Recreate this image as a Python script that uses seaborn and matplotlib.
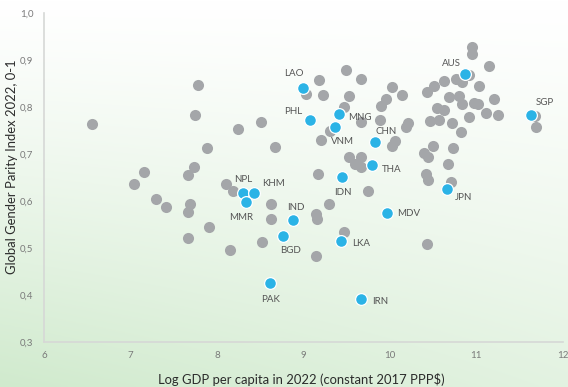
import numpy as np
import matplotlib
matplotlib.use("Agg")
import matplotlib.pyplot as plt
from matplotlib.ticker import FuncFormatter
import pandas as pd
import seaborn as sns

# Other economies (grey)
other_gdp = [6.56, 7.78, 7.75, 7.88, 7.16, 7.04, 7.30, 7.41, 7.73, 7.67,
             7.69, 7.67, 7.91, 7.67, 8.11, 8.19, 8.63, 8.63, 8.52, 8.15,
             9.15, 9.16, 9.29, 9.15, 9.47, 9.75, 9.17, 8.51, 8.24, 8.67,
             9.20, 9.31, 9.03, 9.18, 9.23, 9.49, 9.67, 9.53, 9.47, 9.67,
             9.89, 10.02, 9.96, 9.90, 10.14, 9.53, 9.67, 9.60, 9.67, 10.06,
             10.02, 10.21, 10.19, 10.43, 10.51, 10.62, 10.76, 10.83, 10.92, 10.95,
             10.95, 11.15, 11.03, 10.68, 10.80, 10.83, 10.97, 11.02, 11.20, 10.54,
             10.62, 10.46, 10.57, 10.72, 10.92, 11.11, 11.25, 11.68, 11.69, 10.82,
             10.50, 10.73, 10.39, 10.44, 10.67, 10.42, 10.44, 10.71, 10.43]
other_gpi = [0.765, 0.847, 0.783, 0.714, 0.662, 0.637, 0.605, 0.587, 0.672, 0.656,
             0.595, 0.578, 0.545, 0.523, 0.637, 0.622, 0.594, 0.562, 0.513, 0.496,
             0.574, 0.562, 0.594, 0.484, 0.534, 0.622, 0.659, 0.769, 0.753, 0.715,
             0.731, 0.750, 0.829, 0.857, 0.825, 0.879, 0.861, 0.823, 0.800, 0.769,
             0.773, 0.844, 0.818, 0.802, 0.825, 0.695, 0.695, 0.680, 0.673, 0.728,
             0.717, 0.767, 0.758, 0.832, 0.845, 0.856, 0.859, 0.854, 0.868, 0.928,
             0.914, 0.887, 0.845, 0.822, 0.824, 0.806, 0.809, 0.807, 0.817, 0.799,
             0.794, 0.771, 0.772, 0.766, 0.780, 0.787, 0.783, 0.781, 0.757, 0.747,
             0.718, 0.714, 0.703, 0.695, 0.680, 0.659, 0.645, 0.641, 0.509]

# Highlighted Asia-Pacific economies (blue)
codes = ["LAO", "PHL", "MNG", "VNM", "CHN", "THA", "IDN", "NPL", "KHM", "MMR",
         "IND", "BGD", "LKA", "PAK", "IRN", "MDV", "JPN", "AUS", "SGP"]
hl_gdp = [8.99, 9.07, 9.41, 9.36, 9.83, 9.79, 9.45, 8.30, 8.43, 8.34,
          8.88, 8.76, 9.43, 8.61, 9.66, 9.97, 10.66, 10.87, 11.63]
hl_gpi = [0.841, 0.773, 0.785, 0.758, 0.726, 0.677, 0.651, 0.617, 0.617, 0.598,
          0.560, 0.526, 0.516, 0.426, 0.392, 0.575, 0.626, 0.870, 0.783]

# Label placement (pixel offsets from each marker)
label_dx = [-9, -16, 21, 8, 11, 20, 1, 0, 19, -5, 3, 8, 20, 1, 20, 21, 17, -14, 14]
label_dy = [14, 8, -3, -14, 11, -4, -15, 14, 10, -15, 13, -14, -3, -16, -2, 0, -8, 11, 13]

others = pd.DataFrame({"gdp": other_gdp, "gpi": other_gpi})
highlight = pd.DataFrame({"gdp": hl_gdp, "gpi": hl_gpi, "code": codes})

sns.set_theme(style="white")
plt.rcParams["font.family"] = ["Lato", "DejaVu Sans"]

fig = plt.figure(figsize=(5.68, 3.87), dpi=100)

# Soft green wash behind everything, fading to white at the top
bg = fig.add_axes([0, 0, 1, 1], zorder=-10)
h, w = 200, 300
yy, xx = np.mgrid[0:h, 0:w]
t = (yy / (h - 1)) ** 1.2
s = xx / (w - 1)
g = np.clip(t * (1.0 - 0.4 * s), 0, 1)[..., None]
top = np.array([1.0, 1.0, 1.0])
green = np.array([208, 234, 205]) / 255.0
img = top * (1 - g) + green * g
bg.imshow(img, aspect="auto", extent=[0, 1, 0, 1], origin="upper")
bg.axis("off")

ax = fig.add_axes([0.0775, 0.115, 0.9135, 0.851])
ax.set_facecolor("none")

sns.scatterplot(data=others, x="gdp", y="gpi", ax=ax, color="#a4a6a9",
                s=64, linewidth=0, zorder=2, legend=False)
sns.scatterplot(data=highlight, x="gdp", y="gpi", ax=ax, color="#2bb3e6",
                s=72, edgecolor="white", linewidth=0.9, zorder=3, legend=False)

for code, x, y, dx, dy in zip(codes, hl_gdp, hl_gpi, label_dx, label_dy):
    ax.annotate(code, (x, y), xytext=(dx, dy), textcoords="offset pixels",
                ha="center", va="center", fontsize=7.0, color="#555555", zorder=4)

ax.set_xlim(6, 12)
ax.set_ylim(0.3, 1.0)
ax.set_xticks(range(6, 13))
ax.set_yticks(np.arange(0.3, 1.01, 0.1))
ax.yaxis.set_major_formatter(FuncFormatter(lambda v, p: f"{v:.1f}".replace(".", ",")))
ax.tick_params(axis="both", length=0, labelsize=7.0, labelcolor="#7a7a7a")
ax.tick_params(axis="x", pad=6)
ax.tick_params(axis="y", pad=7.5)

for side in ("top", "right"):
    ax.spines[side].set_visible(False)
for side in ("left", "bottom"):
    ax.spines[side].set_color("#d6d8d6")
    ax.spines[side].set_linewidth(1.2)

ax.set_xlabel("Log GDP per capita in 2022 (constant 2017 PPP$)", fontsize=9.4,
              color="#2b2b2b", va="center")
ax.xaxis.set_label_coords(0.495, -0.111)
ax.set_ylabel("Global Gender Parity Index 2022, 0-1", fontsize=9.4,
              color="#2b2b2b", va="center")
ax.yaxis.set_label_coords(-0.0617, 0.533)
ax.grid(False)

fig.savefig("out.png", dpi=100)
